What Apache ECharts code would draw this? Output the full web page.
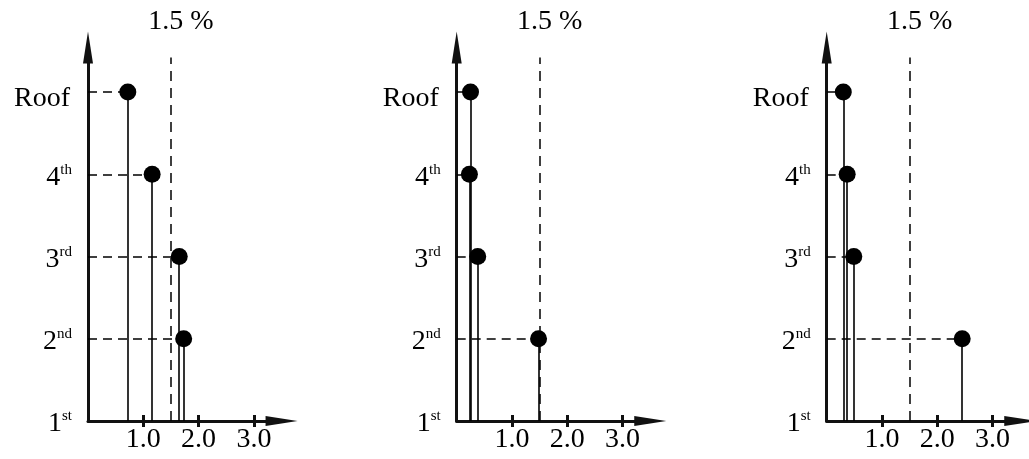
<!DOCTYPE html>
<html><head><meta charset="utf-8">
<script src="https://cdn.jsdelivr.net/npm/echarts@6/dist/echarts.min.js"></script>
<style>html,body{margin:0;padding:0;background:#fff}#c{width:1029px;height:459px}</style>
</head><body><div id="c"></div>
<script>
// ---- data ----
const floorNames = ['1st', '2nd', '3rd', '4th', 'Roof'];
const floorLevels = [1, 2, 3, 4, 5];
const pointLevels = [2, 3, 4, 5];          // 2nd, 3rd, 4th, Roof
const panel1 = [1.73, 1.65, 1.16, 0.72];
const panel2 = [1.48, 0.38, 0.23, 0.25];
const panel3 = [2.45, 0.49, 0.37, 0.30];
const xTickValues = [1, 2, 3];
const xTickLabels = ['1.0', '2.0', '3.0'];
const limitValue = 1.5;
const limitLabel = '1.5 %';

// ---- layout ----
const panels = [panel1, panel2, panel3];
const lefts = [88, 456.7, 826.7];
const unitX = 55.3, unitY = 82.25, baseY = 421;
const xMax = 3.5, yMax = 5.54, limitTop = 5.42;
const FONT = 'Liberation Serif';
const ink = '#000';

const grids = [], xAxes = [], yAxes = [], series = [];
panels.forEach((vals, i) => {
  grids.push({
    left: lefts[i],
    top: baseY - (yMax - 1) * unitY,
    width: xMax * unitX,
    height: (yMax - 1) * unitY
  });
  // main x axis
  xAxes.push({
    gridIndex: i, type: 'value', min: 0, max: xMax, interval: 1, position: 'bottom',
    axisLine: { show: true, symbol: ['none', 'triangle'], symbolSize: [10, 32],
      lineStyle: { color: '#111', width: 3 } },
    axisTick: { show: true, customValues: xTickValues, length: 6, inside: false,
      lineStyle: { color: '#111', width: 3 } },
    axisLabel: { show: true, customValues: xTickValues, margin: 5,
      formatter: v => xTickLabels[xTickValues.indexOf(v)],
      color: ink, fontFamily: FONT, fontSize: 28 },
    splitLine: { show: false }
  });
  // overlay x axis for the inner half of the ticks
  xAxes.push({
    gridIndex: i, type: 'value', min: 0, max: xMax, interval: 1, position: 'bottom',
    axisLine: { show: false },
    axisTick: { show: true, customValues: xTickValues, length: 6, inside: true,
      lineStyle: { color: '#111', width: 3 } },
    axisLabel: { show: false },
    splitLine: { show: false }
  });
  yAxes.push({
    gridIndex: i, type: 'value', min: 1, max: yMax, interval: 1,
    axisLine: { show: true, symbol: ['none', 'triangle'], symbolSize: [10, 32],
      lineStyle: { color: '#111', width: 3 } },
    axisTick: { show: false },
    splitLine: { show: false },
    axisLabel: {
      show: true, customValues: floorLevels, margin: 16, padding: [6, 0, 0, 0],
      formatter: v => {
        const name = floorNames[floorLevels.indexOf(v)];
        if (name === 'Roof') return '{r|' + name + '}';
        return '{n|' + name.slice(0, 1) + '}{s|' + name.slice(1) + '}';
      },
      rich: {
        r: { fontFamily: FONT, fontSize: 28, color: ink, lineHeight: 30, padding: [8, 2, 0, 0] },
        n: { fontFamily: FONT, fontSize: 28, color: ink, lineHeight: 30 },
        s: { fontFamily: FONT, fontSize: 15, color: ink, lineHeight: 16, verticalAlign: 'top' }
      }
    }
  });

  const lineData = [];
  vals.forEach((v, j) => {
    const lvl = pointLevels[j];
    // stem
    lineData.push([{ coord: [v, 1], lineStyle: { type: 'solid', width: 1.6, color: ink }, label: { show: false } },
                   { coord: [v, lvl] }]);
    // dashed guide from the storey axis
    lineData.push([{ coord: [0, lvl], lineStyle: { type: [9, 6], width: 1.5, color: ink }, label: { show: false } },
                   { coord: [v, lvl] }]);
  });
  lineData.push([{ coord: [limitValue, 1], lineStyle: { type: [10, 7], width: 1.5, color: ink },
                   label: { show: true, position: 'end', formatter: limitLabel, distance: 22,
                     fontFamily: FONT, fontSize: 28, color: ink, padding: [0, 0, 0, 20] } },
                 { coord: [limitValue, limitTop] }]);

  series.push({
    type: 'scatter', xAxisIndex: 2 * i, yAxisIndex: i,
    symbol: 'circle', symbolSize: 17,
    itemStyle: { color: ink, opacity: 1 },
    data: vals.map((v, j) => [v, pointLevels[j]]),
    z: 5,
    markLine: { silent: true, symbol: ['none', 'none'], animation: false, z: 4, data: lineData }
  });
});

const chart = echarts.init(document.getElementById('c'), null, { renderer: 'canvas' });
chart.setOption({
  animation: false,
  backgroundColor: '#fff',
  grid: grids, xAxis: xAxes, yAxis: yAxes, series: series
});
</script></body></html>
